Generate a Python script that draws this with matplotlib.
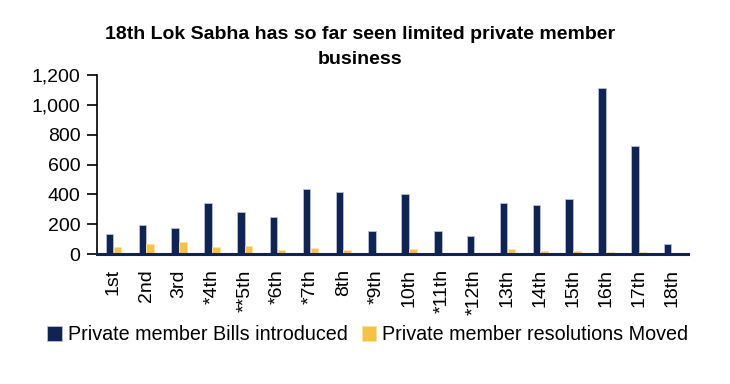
import numpy as np
import matplotlib.pyplot as plt
from matplotlib.ticker import FuncFormatter

plt.rcParams["font.family"] = ["Liberation Sans", "DejaVu Sans"]

sabhas = ["1st", "2nd", "3rd", "*4th", "**5th", "*6th", "*7th", "8th", "*9th",
          "10th", "*11th", "*12th", "13th", "14th", "15th", "16th", "17th", "18th"]
bills = [132, 193, 177, 345, 280, 246, 434, 414, 154,
         405, 157, 121, 340, 327, 372, 1114, 727, 65]
resolutions = [47, 65, 78, 45, 54, 25, 38, 29, 5,
               31, 3, 0, 31, 18, 18, 11, 11, 0]

navy = "#0f2354"
gold = "#f5c243"

fig = plt.figure(figsize=(7.3, 3.84), dpi=100)
ax = fig.add_axes([0.1329, 0.3385, 0.8096, 0.4662])

x = np.arange(len(sabhas))
w = 0.23
ax.bar(x - 0.12, bills, w, color=navy, edgecolor="#b8c0d8", linewidth=0.6,
       label="Private member Bills introduced")
ax.bar(x + 0.12, resolutions, w, color=gold, edgecolor="#fbe3a0", linewidth=0.6,
       label="Private member resolutions Moved")

ax.set_xlim(-0.5, len(sabhas) - 0.5)
ax.set_ylim(0, 1200)
ax.set_yticks(range(0, 1201, 200))
ax.yaxis.set_major_formatter(FuncFormatter(lambda v, p: f"{int(v):,}"))
ax.set_xticks(x)
ax.set_xticklabels(sabhas, rotation=90, fontsize=14)
ax.tick_params(axis="x", length=0, pad=11)
ax.tick_params(axis="y", labelsize=14, length=7, width=1.2, direction="out", pad=5)

for s in ["top", "right"]:
    ax.spines[s].set_visible(False)
ax.spines["left"].set_linewidth(1.2)
ax.spines["bottom"].set_color(navy)
ax.spines["bottom"].set_linewidth(2.2)

fig.text(0.493, 0.878, "18th Lok Sabha has so far seen limited private member\nbusiness",
         ha="center", va="center", fontsize=14, fontweight="bold", linespacing=1.6)

fig.legend(loc="center", bbox_to_anchor=(0.504, 0.128), ncol=2, frameon=False,
           fontsize=14.2, handlelength=0.75, handleheight=0.75, handletextpad=0.3,
           columnspacing=0.7, borderaxespad=0)

fig.savefig("out.png", dpi=100)
